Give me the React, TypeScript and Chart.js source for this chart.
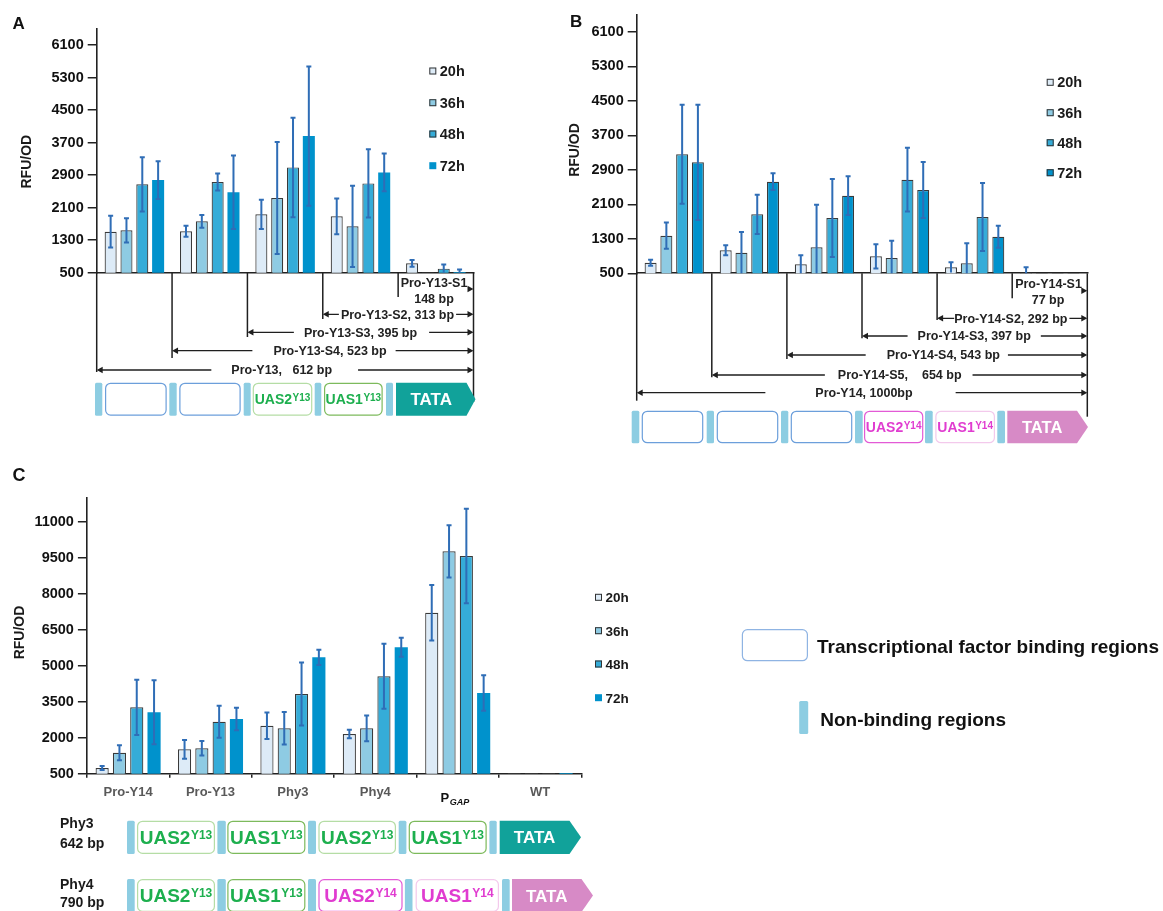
import React, { useEffect, useRef } from 'react';
import { Chart, registerables } from 'chart.js';

Chart.register(...registerables);

const FONT = '"Liberation Sans", Arial, sans-serif';
const PAGE_W = 1163;
const PAGE_H = 911;
const LINE = '#1F1F1F';

// ---------- shared series info ----------
const timeLabels = ['20h', '36h', '48h', '72h'];
const fillColors = ['#DDEBF7', '#8ECBE3', '#35ACD8', '#0092CC'];
const barBorder = '#3A3A3A';
const errColor = '#2F6DB6';

// ---------- Panel A ----------
const catsA = ['Pro-Y13', 'Pro-Y13-S4', 'Pro-Y13-S3', 'Pro-Y13-S2', 'Pro-Y13-S1'];
const a20 = [1510, 1518, 1937, 1887, 731];
const a36 = [1543, 1764, 2338, 1641, 510];
const a48 = [2675, 2732, 3093, 2699, 600];
const a72 = [2782, 2478, 3863, 2970, 520];
const a20Err = [390, 135, 360, 440, 82];
const a36Err = [300, 155, 1380, 1000, 0];
const a48Err = [670, 210, 1225, 840, 100];
const a72Err = [465, 905, 1715, 465, 60];
const ticksAB = [500, 1300, 2100, 2900, 3700, 4500, 5300, 6100];

// ---------- Panel B ----------
const catsB = ['Pro-Y14', 'Pro-Y14-S5', 'Pro-Y14-S4', 'Pro-Y14-S3', 'Pro-Y14-S2', 'Pro-Y14-S1'];
const b20 = [746, 1034, 709, 894, 639, 520];
const b36 = [1372, 978, 1103, 855, 732, 505];
const b48 = [3261, 1869, 1783, 2672, 1806, 505];
const b72 = [3075, 2625, 2300, 2433, 1349, 505];
const b20Err = [70, 115, 210, 280, 120, 120];
const b36Err = [305, 480, 990, 400, 465, 0];
const b48Err = [1150, 455, 905, 740, 790, 0];
const b72Err = [1337, 195, 450, 650, 255, 0];

// ---------- Panel C ----------
const catsC = ['Pro-Y14', 'Pro-Y13', 'Phy3', 'Phy4', 'PGAP', 'WT'];
const c20 = [738, 1516, 2503, 2156, 7217, 530];
const c36 = [1376, 1560, 2394, 2394, 9778, 530];
const c48 = [3270, 2670, 3825, 4563, 9583, 530];
const c72 = [3062, 2782, 5356, 5773, 3867, 530];
const c20Err = [85, 390, 550, 175, 1155, 0];
const c36Err = [310, 300, 680, 535, 1090, 0];
const c48Err = [1150, 670, 1310, 1355, 1975, 0];
const c72Err = [1335, 465, 320, 395, 745, 0];
const ticksC = [500, 2000, 3500, 5000, 6500, 8000, 9500, 11000];

// ---------- drawing helpers ----------
type Ctx = CanvasRenderingContext2D;

function txt(ctx: Ctx, s: string, x: number, cy: number, size: number, o: { align?: CanvasTextAlign; color?: string; italic?: boolean; sx?: number } = {}) {
  ctx.save();
  ctx.font = `${o.italic ? 'italic ' : ''}bold ${size}px ${FONT}`;
  ctx.fillStyle = o.color ?? '#1A1A1A';
  ctx.textAlign = o.align ?? 'center';
  ctx.textBaseline = 'alphabetic';
  ctx.translate(x, cy + size * 0.358);
  if (o.sx) ctx.scale(o.sx, 1);
  ctx.fillText(s, 0, 0);
  ctx.restore();
}

function textWidth(ctx: Ctx, s: string, size: number) {
  ctx.save();
  ctx.font = `bold ${size}px ${FONT}`;
  const w = ctx.measureText(s).width;
  ctx.restore();
  return w;
}

function rotText(ctx: Ctx, s: string, cx: number, cy: number, size: number) {
  ctx.save();
  ctx.translate(cx, cy);
  ctx.rotate(-Math.PI / 2);
  ctx.font = `bold ${size}px ${FONT}`;
  ctx.fillStyle = '#1A1A1A';
  ctx.textAlign = 'center';
  ctx.textBaseline = 'alphabetic';
  ctx.fillText(s, 0, size * 0.358);
  ctx.restore();
}

function vline(ctx: Ctx, x: number, y1: number, y2: number) {
  ctx.save();
  ctx.strokeStyle = LINE;
  ctx.lineWidth = 1.5;
  ctx.beginPath();
  ctx.moveTo(x, y1);
  ctx.lineTo(x, y2);
  ctx.stroke();
  ctx.restore();
}

function head(ctx: Ctx, x: number, y: number, dir: number) {
  ctx.save();
  ctx.fillStyle = LINE;
  ctx.beginPath();
  ctx.moveTo(x, y);
  ctx.lineTo(x - dir * 6, y - 3.2);
  ctx.lineTo(x - dir * 6, y + 3.2);
  ctx.closePath();
  ctx.fill();
  ctx.restore();
}

type Row = { from: number; y: number; text: string; cx: number; padL: number; padR: number };

function arrowRow(ctx: Ctx, x1: number, x2: number, r: Row, size: number) {
  const w = textWidth(ctx, r.text, size);
  const g1 = r.cx - w / 2 - r.padL;
  const g2 = r.cx + w / 2 + r.padR;
  ctx.save();
  ctx.strokeStyle = LINE;
  ctx.lineWidth = 1.3;
  ctx.beginPath();
  ctx.moveTo(x1 + 2, r.y);
  ctx.lineTo(Math.max(x1 + 2, g1), r.y);
  ctx.moveTo(Math.min(x2 - 2, g2), r.y);
  ctx.lineTo(x2 - 2, r.y);
  ctx.stroke();
  ctx.restore();
  head(ctx, x1, r.y, -1);
  head(ctx, x2, r.y, 1);
  txt(ctx, r.text, r.cx, r.y, size, { color: '#222' });
}

function nb(ctx: Ctx, x1: number, x2: number, y1: number, y2: number) {
  ctx.save();
  ctx.fillStyle = '#8DCDE2';
  ctx.beginPath();
  ctx.roundRect(x1, y1, x2 - x1, y2 - y1, 1.5);
  ctx.fill();
  ctx.restore();
}

function rbox(ctx: Ctx, x1: number, x2: number, y1: number, y2: number, stroke: string) {
  ctx.save();
  ctx.beginPath();
  ctx.roundRect(x1 + 0.6, y1 + 0.6, x2 - x1 - 1.2, y2 - y1 - 1.2, 5);
  ctx.fillStyle = '#FFFFFF';
  ctx.fill();
  ctx.strokeStyle = stroke;
  ctx.lineWidth = 1.2;
  ctx.stroke();
  ctx.restore();
}

function uas(ctx: Ctx, x1: number, x2: number, y1: number, y2: number, main: string, sup: string, color: string, fs: number, ss: number) {
  const w1 = textWidth(ctx, main, fs);
  const w2 = textWidth(ctx, sup, ss);
  const left = (x1 + x2) / 2 - (w1 + w2 + 0.5) / 2;
  const cy = (y1 + y2) / 2;
  txt(ctx, main, left, cy, fs, { align: 'left', color });
  ctx.save();
  ctx.font = `bold ${ss}px ${FONT}`;
  ctx.fillStyle = color;
  ctx.textAlign = 'left';
  ctx.textBaseline = 'alphabetic';
  ctx.fillText(sup, left + w1 + 0.5, cy - fs * 0.358 + ss * 0.72);
  ctx.restore();
}

function tata(ctx: Ctx, x1: number, x2: number, y1: number, y2: number, pt: number, color: string, fs: number) {
  ctx.save();
  ctx.fillStyle = color;
  ctx.beginPath();
  ctx.moveTo(x1, y1);
  ctx.lineTo(x2 - pt, y1);
  ctx.lineTo(x2, (y1 + y2) / 2);
  ctx.lineTo(x2 - pt, y2);
  ctx.lineTo(x1, y2);
  ctx.closePath();
  ctx.fill();
  ctx.restore();
  txt(ctx, 'TATA', (x1 + x2 - pt) / 2, (y1 + y2) / 2, fs, { color: '#FFFFFF' });
}

function legend(ctx: Ctx, x: number, ys: number[], size: number, border72: boolean) {
  timeLabels.forEach((t, i) => {
    const y = ys[i];
    ctx.save();
    ctx.fillStyle = fillColors[i];
    ctx.fillRect(x, y - 3.5, 7, 7);
    if (i < 3 || border72) {
      ctx.strokeStyle = '#333';
      ctx.lineWidth = 1;
      ctx.strokeRect(x + 0.5, y - 3, 6, 6);
    }
    ctx.restore();
    txt(ctx, t, x + 10.5, y, size, { align: 'left' });
  });
}

function boundaries(chart: Chart): number[] {
  const a = chart.chartArea;
  const n = (chart.data.labels as string[]).length;
  const w = (a.right - a.left) / n;
  const out: number[] = [];
  for (let i = 0; i <= n; i++) out.push(a.left + i * w);
  return out;
}

// ---------- panel diagrams ----------
const GREEN = '#1DAF4E';
const MAGENTA = '#E03CD0';
const BIND = '#6C9FDB';

const rowsA: Row[] = [
  { from: 3, y: 314.3, text: 'Pro-Y13-S2, 313 bp', cx: 397.5, padL: 2, padR: 2 },
  { from: 2, y: 332.3, text: 'Pro-Y13-S3, 395 bp', cx: 360.5, padL: 10, padR: 12 },
  { from: 1, y: 350.7, text: 'Pro-Y13-S4, 523 bp', cx: 330, padL: 21, padR: 9 },
  { from: 0, y: 370, text: 'Pro-Y13,   612 bp', cx: 281.7, padL: 20, padR: 26 },
];

function drawA(chart: Chart) {
  const ctx = chart.ctx;
  const a = chart.chartArea;
  const bx = boundaries(chart);
  txt(ctx, 'A', 12.5, 22.5, 17, { align: 'left', color: '#111' });
  rotText(ctx, 'RFU/OD', 26, 161.7, 14);
  legend(ctx, 429.3, [71, 102.7, 134, 165.7], 14.5, false);
  const ends = [372, 358, 337, 319, 297, 402];
  bx.forEach((x, i) => vline(ctx, x, a.bottom, ends[i]));
  rowsA.forEach((r) => arrowRow(ctx, bx[r.from], bx[5], r, 12.5));
  txt(ctx, 'Pro-Y13-S1', 434, 282.7, 12.5, { color: '#222' });
  txt(ctx, '148 bp', 434, 299, 12.5, { color: '#222' });
  head(ctx, bx[5], 289, 1);
  const y1 = 382.7, y2 = 415.7;
  [[95, 102.3], [169.3, 176.7], [243.7, 250.7], [314.7, 321.3], [386, 393]].forEach(([p, q]) => nb(ctx, p, q, y1, y2));
  rbox(ctx, 105, 166.7, y1, y2, BIND);
  rbox(ctx, 179.3, 240.7, y1, y2, BIND);
  rbox(ctx, 252.7, 312.3, y1, y2, '#B5DDA5');
  uas(ctx, 252.7, 312.3, y1, y2, 'UAS2', 'Y13', GREEN, 14, 10);
  rbox(ctx, 324, 382.7, y1, y2, '#7DBA5C');
  uas(ctx, 324, 382.7, y1, y2, 'UAS1', 'Y13', GREEN, 14, 10);
  tata(ctx, 396, 475.5, y1, y2, 9, '#11A29A', 17);
}

const rowsB: Row[] = [
  { from: 4, y: 318.3, text: 'Pro-Y14-S2, 292 bp', cx: 1010.8, padL: 0, padR: 2 },
  { from: 3, y: 336, text: 'Pro-Y14-S3, 397 bp', cx: 974.2, padL: 10, padR: 10 },
  { from: 2, y: 355, text: 'Pro-Y14-S4, 543 bp', cx: 943.3, padL: 21, padR: 8 },
  { from: 1, y: 375, text: 'Pro-Y14-S5,    654 bp', cx: 899.7, padL: 13, padR: 11 },
  { from: 0, y: 392.7, text: 'Pro-Y14, 1000bp', cx: 864, padL: 50, padR: 43 },
];

function drawB(chart: Chart) {
  const ctx = chart.ctx;
  const a = chart.chartArea;
  const bx = boundaries(chart);
  txt(ctx, 'B', 570, 20.5, 17, { align: 'left', color: '#111' });
  rotText(ctx, 'RFU/OD', 574, 150, 14);
  legend(ctx, 1046.7, [82.3, 112.7, 142.7, 172.7], 14.5, true);
  const ends = [400.7, 377.3, 359, 338.3, 320, 298.3, 416.7];
  bx.forEach((x, i) => vline(ctx, x, a.bottom, ends[i]));
  rowsB.forEach((r) => arrowRow(ctx, bx[r.from], bx[6], r, 12.5));
  txt(ctx, 'Pro-Y14-S1', 1048.5, 284, 12.5, { color: '#222' });
  txt(ctx, '77 bp', 1048, 300, 12.5, { color: '#222' });
  head(ctx, bx[6], 290.7, 1);
  const y1 = 410.7, y2 = 443.3;
  [[631.7, 639.3], [706.7, 714], [781, 788.3], [855, 862.7], [925, 932.7], [997.3, 1005]].forEach(([p, q]) => nb(ctx, p, q, y1, y2));
  rbox(ctx, 641.7, 703.3, y1, y2, BIND);
  rbox(ctx, 716.7, 778.3, y1, y2, BIND);
  rbox(ctx, 790.7, 852.3, y1, y2, BIND);
  rbox(ctx, 864, 923.3, y1, y2, '#E35AD6');
  uas(ctx, 864, 923.3, y1, y2, 'UAS2', 'Y14', MAGENTA, 14, 10);
  rbox(ctx, 935.3, 995, y1, y2, '#F3C9EC');
  uas(ctx, 935.3, 995, y1, y2, 'UAS1', 'Y14', MAGENTA, 14, 10);
  tata(ctx, 1007.3, 1088, y1, y2, 11, '#D78AC6', 16.5);
}

function drawC(chart: Chart) {
  const ctx = chart.ctx;
  const xs = chart.scales.x;
  txt(ctx, 'C', 12.5, 475, 18, { align: 'left', color: '#111' });
  rotText(ctx, 'RFU/OD', 19, 632.5, 14);
  legend(ctx, 595, [597.3, 630.7, 664, 697.7], 13.5, false);

  // category labels
  catsC.forEach((c, i) => {
    const x = xs.getPixelForValue(i);
    if (c === 'PGAP') {
      const wP = textWidth(ctx, 'P', 13);
      ctx.save();
      ctx.font = `italic bold 9px ${FONT}`;
      const wG = ctx.measureText('GAP').width;
      ctx.restore();
      const left = x - 3 - (wP + wG) / 2;
      txt(ctx, 'P', left, 797.5, 13, { align: 'left', color: '#111' });
      txt(ctx, 'GAP', left + wP + 0.5, 801.5, 9, { align: 'left', italic: true, color: '#111' });
    } else {
      txt(ctx, c, x, 791, 13, { color: '#595959' });
    }
  });

  // Phy3 / Phy4 constructs
  txt(ctx, 'Phy3', 60, 823.3, 14, { align: 'left' });
  txt(ctx, '642 bp', 60, 843.3, 14, { align: 'left' });
  txt(ctx, 'Phy4', 60, 884, 14, { align: 'left' });
  txt(ctx, '790 bp', 60, 901.7, 14, { align: 'left' });

  let y1 = 820.7, y2 = 854;
  [[127, 134.7], [217.4, 225.8], [308, 316], [398.7, 406.4], [489.4, 496.7]].forEach(([p, q]) => nb(ctx, p, q, y1, y2));
  rbox(ctx, 137, 215, y1, y2, '#B5DDA5');
  uas(ctx, 137, 215, y1, y2, 'UAS2', 'Y13', GREEN, 19, 12);
  rbox(ctx, 227.3, 305.4, y1, y2, '#7DBA5C');
  uas(ctx, 227.3, 305.4, y1, y2, 'UAS1', 'Y13', GREEN, 19, 12);
  rbox(ctx, 318.4, 396, y1, y2, '#B5DDA5');
  uas(ctx, 318.4, 396, y1, y2, 'UAS2', 'Y13', GREEN, 19, 12);
  rbox(ctx, 408.7, 486.7, y1, y2, '#7DBA5C');
  uas(ctx, 408.7, 486.7, y1, y2, 'UAS1', 'Y13', GREEN, 19, 12);
  tata(ctx, 499.7, 581, y1, y2, 11.5, '#11A29A', 17);

  y1 = 879; y2 = 912;
  [[127, 134.7], [217.4, 225.8], [308, 316], [404.9, 412.5], [502, 509.7]].forEach(([p, q]) => nb(ctx, p, q, y1, y2));
  rbox(ctx, 137, 215, y1, y2, '#B5DDA5');
  uas(ctx, 137, 215, y1, y2, 'UAS2', 'Y13', GREEN, 19, 12);
  rbox(ctx, 227.3, 305.4, y1, y2, '#7DBA5C');
  uas(ctx, 227.3, 305.4, y1, y2, 'UAS1', 'Y13', GREEN, 19, 12);
  rbox(ctx, 318.4, 402.6, y1, y2, '#E35AD6');
  uas(ctx, 318.4, 402.6, y1, y2, 'UAS2', 'Y14', MAGENTA, 19, 12);
  rbox(ctx, 415.6, 499, y1, y2, '#F3C9EC');
  uas(ctx, 415.6, 499, y1, y2, 'UAS1', 'Y14', MAGENTA, 19, 12);
  tata(ctx, 512, 593, y1, y2, 11.5, '#D78AC6', 17);

  // region legend
  rbox(ctx, 741.8, 808, 629, 661.3, '#8FB4E3');
  txt(ctx, 'Transcriptional factor binding regions', 817, 645.7, 19, { align: 'left', color: '#111' });
  nb(ctx, 799.2, 808.2, 701, 734);
  txt(ctx, 'Non-binding regions', 820.2, 719.3, 19, { align: 'left', color: '#111' });
}

// ---------- chart factory ----------
type Panel = {
  labels: string[];
  series: number[][];
  errs: number[][];
  area: { left: number; right: number; top: number; bottom: number };
  yMin: number;
  yMax: number;
  yTicks: number[];
  border72: boolean;
  xTickLen: number;
  draw: (c: Chart) => void;
};

const panelA: Panel = {
  labels: catsA,
  series: [a20, a36, a48, a72],
  errs: [a20Err, a36Err, a48Err, a72Err],
  area: { left: 96.7, right: 473.5, top: 29, bottom: 272.7 },
  yMin: 500,
  yMax: 6500,
  yTicks: ticksAB,
  border72: false,
  xTickLen: 0,
  draw: drawA,
};

const panelB: Panel = {
  labels: catsB,
  series: [b20, b36, b48, b72],
  errs: [b20Err, b36Err, b48Err, b72Err],
  area: { left: 636.7, right: 1087.3, top: 14.7, bottom: 273.3 },
  yMin: 500,
  yMax: 6500,
  yTicks: ticksAB,
  border72: true,
  xTickLen: 0,
  draw: drawB,
};

const panelC: Panel = {
  labels: catsC,
  series: [c20, c36, c48, c72],
  errs: [c20Err, c36Err, c48Err, c72Err],
  area: { left: 86.9, right: 581.3, top: 498.1, bottom: 773.7 },
  yMin: 500,
  yMax: 12000,
  yTicks: ticksC,
  border72: false,
  xTickLen: 4,
  draw: drawC,
};

function errorBars(errs: number[][]) {
  return {
    id: 'errorBars',
    afterDatasetsDraw(chart: Chart) {
      const ctx = chart.ctx;
      const ys = chart.scales.y;
      const a = chart.chartArea;
      ctx.save();
      ctx.strokeStyle = errColor;
      ctx.lineWidth = 2;
      chart.data.datasets.forEach((ds, di) => {
        const meta = chart.getDatasetMeta(di);
        meta.data.forEach((el: any, i: number) => {
          const v = ds.data[i] as number;
          const e = errs[di][i];
          if (!e) return;
          const x = el.x;
          const top = ys.getPixelForValue(v + e);
          const bot = ys.getPixelForValue(v - e);
          const t = Math.max(a.top, top);
          const b = Math.min(a.bottom, bot);
          ctx.beginPath();
          ctx.moveTo(x, t);
          ctx.lineTo(x, b);
          if (top >= a.top) {
            ctx.moveTo(x - 2.5, t);
            ctx.lineTo(x + 2.5, t);
          }
          if (bot <= a.bottom - 1) {
            ctx.moveTo(x - 2.5, b);
            ctx.lineTo(x + 2.5, b);
          }
          ctx.stroke();
        });
      });
      ctx.restore();
    },
  };
}

function buildChart(canvas: HTMLCanvasElement, p: Panel) {
  const yW = 62;
  const xH = 6;
  return new Chart(canvas, {
    type: 'bar',
    data: {
      labels: p.labels,
      datasets: p.series.map((d, i) => ({
        label: timeLabels[i],
        data: d,
        backgroundColor: fillColors[i],
        borderColor: barBorder,
        borderWidth: i === 3 && !p.border72 ? 0 : 1.2,
        categoryPercentage: 0.84,
        barPercentage: 0.76,
        clip: 0,
      })),
    },
    options: {
      responsive: false,
      animation: false,
      devicePixelRatio: 1,
      events: [],
      layout: {
        padding: {
          left: p.area.left - yW,
          right: PAGE_W - p.area.right,
          top: p.area.top,
          bottom: PAGE_H - p.area.bottom - xH,
        },
      },
      plugins: {
        legend: { display: false },
        tooltip: { enabled: false },
        title: { display: false },
      },
      scales: {
        x: {
          type: 'category',
          offset: true,
          z: 1,
          grid: {
            display: true,
            drawOnChartArea: false,
            drawTicks: p.xTickLen > 0,
            tickLength: p.xTickLen,
            color: '#222',
            lineWidth: 1.5,
            offset: true,
          },
          border: { display: true, color: '#222', width: 1.6 },
          ticks: { display: false },
          afterFit: (s: any) => {
            s.height = xH;
          },
        },
        y: {
          type: 'linear',
          min: p.yMin,
          max: p.yMax,
          beginAtZero: false,
          z: 1,
          afterBuildTicks: (s: any) => {
            s.ticks = p.yTicks.map((v) => ({ value: v }));
          },
          afterFit: (s: any) => {
            s.width = yW;
          },
          grid: {
            drawOnChartArea: false,
            drawTicks: true,
            tickLength: 9,
            color: '#222',
            lineWidth: 1.5,
          },
          border: { display: true, color: '#222', width: 1.6 },
          ticks: {
            color: '#111',
            font: { family: FONT, size: 14.5, weight: 'bold' },
            padding: 4,
            callback: (v: any) => String(v),
          },
        },
      },
    },
    plugins: [errorBars(p.errs), { id: 'diagram', afterDraw: (c: Chart) => p.draw(c) }],
  } as any);
}

export default function App() {
  const refA = useRef<HTMLCanvasElement>(null);
  const refB = useRef<HTMLCanvasElement>(null);
  const refC = useRef<HTMLCanvasElement>(null);

  useEffect(() => {
    const charts = [
      buildChart(refA.current!, panelA),
      buildChart(refB.current!, panelB),
      buildChart(refC.current!, panelC),
    ];
    return () => charts.forEach((c) => c.destroy());
  }, []);

  const st: React.CSSProperties = { position: 'absolute', left: 0, top: 0, width: PAGE_W, height: PAGE_H };
  return (
    <div style={{ position: 'absolute', left: 0, top: 0, width: PAGE_W, height: PAGE_H, background: '#FFFFFF', overflow: 'hidden' }}>
      <canvas ref={refA} width={PAGE_W} height={PAGE_H} style={st} />
      <canvas ref={refB} width={PAGE_W} height={PAGE_H} style={st} />
      <canvas ref={refC} width={PAGE_W} height={PAGE_H} style={st} />
    </div>
  );
}
